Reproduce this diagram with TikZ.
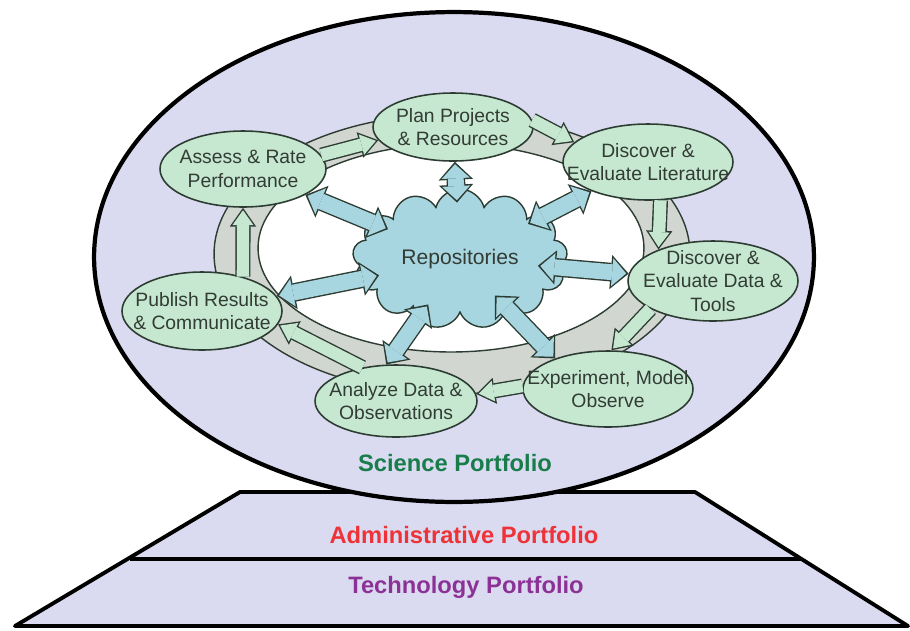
\documentclass[tikz,border=0pt]{standalone}
\usepackage{fontspec}
\setmainfont{Liberation Sans}
\usetikzlibrary{shapes.geometric,shapes.symbols,arrows.meta}

\definecolor{portbg}{RGB}{218,219,240}
\definecolor{ringgray}{RGB}{210,214,208}
\definecolor{stagegreen}{RGB}{198,232,208}
\definecolor{repoblue}{RGB}{168,214,224}
\definecolor{edgedark}{RGB}{45,60,50}
\definecolor{textdark}{RGB}{50,60,52}
\definecolor{scigreen}{RGB}{25,125,75}
\definecolor{admred}{RGB}{238,50,55}
\definecolor{techpurple}{RGB}{140,50,150}

\tikzset{
  stage/.style={ellipse, draw=edgedark, line width=0.9pt, fill=stagegreen, inner sep=-30pt,
    align=center, text=textdark, font=\fontsize{11}{13.5}\selectfont},
  portlabel/.style={font=\fontsize{13.5}{16}\selectfont\bfseries},
  cyclearrow/.style={draw=stagegreen, line width=7pt, shorten >=1.4pt,
    -{Triangle[length=8.5pt,width=12pt,line width=0pt]},
    preaction={draw=edgedark, line width=8.6pt, shorten >=0pt,
      -{Triangle[length=10.7pt,width=15pt,line width=0pt]}}},
  repoarrow/.style={draw=repoblue, line width=9pt, shorten >=1.4pt, shorten <=1.4pt-#1,
    {Triangle[length=8pt,width=16pt,line width=0pt]}-{Triangle[length=8pt,width=16pt,line width=0pt]},
    preaction={draw=edgedark, line width=10.6pt, shorten >=0pt, shorten <=-#1,
      {Triangle[length=10.2pt,width=19.5pt,line width=0pt]}-{Triangle[length=10.2pt,width=19.5pt,line width=0pt]}}},
  repoarrow/.default=10pt,
}

\begin{document}
\begin{tikzpicture}[x=0.02cm, y=-0.02cm]
\useasboundingbox (0,0) rectangle (910,630);

% portfolio base
\filldraw[fill=portbg, draw=black, line width=2.2pt, line join=round]
  (240,492) -- (695,492) -- (908,626) -- (15,626) -- cycle;
\draw[line width=1.8pt] (130,559) -- (802,559);

% science portfolio
\filldraw[fill=portbg, draw=black, line width=2.4pt] (454,257) ellipse (7.2cm and 4.9cm);

% ring
\filldraw[fill=ringgray, draw=edgedark, line width=0.8pt] (452,254) ellipse (4.76cm and 2.8cm);
\filldraw[fill=white, draw=edgedark, line width=0.8pt] (451,248) ellipse (3.86cm and 2.08cm);

\node[cloud, cloud puffs=13, cloud ignores aspect, draw=edgedark, line width=0.8pt, fill=repoblue,
  minimum width=4.3cm, minimum height=2.8cm, inner sep=0pt, text=textdark,
  font=\fontsize{12}{14}\selectfont] (repo) at (460,259) {Repositories};

\node[stage, minimum width=3.2cm, minimum height=1.36cm] (plan) at (453,127) {Plan Projects\\ \& Resources};
\node[stage, minimum width=3.32cm, minimum height=1.52cm] (assess) at (243,169) {Assess \& Rate\\ Performance};
\node[stage, minimum width=3.4cm, minimum height=1.52cm] (lit) at (648,162) {Discover \&\\ Evaluate Literature};
\node[stage, minimum width=3.4cm, minimum height=1.6cm] (data) at (713,281) {Discover \&\\ Evaluate Data \&\\ Tools};
\node[stage, minimum width=3.4cm, minimum height=1.52cm] (exper) at (608,389) {Experiment, Model\\ Observe};
\node[stage, minimum width=3.24cm, minimum height=1.44cm] (analyze) at (396,401) {Analyze Data \&\\ Observations};
\node[stage, minimum width=3.2cm, minimum height=1.56cm] (publish) at (202,311) {Publish Results\\ \& Communicate};

% cycle
\draw[cyclearrow] (assess.10) -- (plan.190);
\draw[cyclearrow] (plan.5) -- (lit.165);
\draw[cyclearrow] (lit.288) -- (data.150);
\draw[cyclearrow] (data.204) -- (exper.85);
\draw[cyclearrow] (exper.178) -- (analyze.5);
\draw[cyclearrow] (analyze.135) -- (publish.350);
\draw[cyclearrow] (publish.40) -- (assess.270);

% repositories
\draw[repoarrow=8pt] (repo) -- (plan);
\draw[repoarrow=12pt] (repo) -- (assess);
\draw[repoarrow] (repo) -- (lit);
\draw[repoarrow=13pt] (repo) -- (publish);
\draw[repoarrow=14pt] (repo) -- (data);
\draw[repoarrow=10pt] (repo) -- (analyze.105);
\draw[repoarrow=10pt] (repo) -- (exper.150);

\node[portlabel, text=scigreen] (sci) at (455,463) {Science Portfolio};
\node[portlabel, text=admred] (admin) at (464,535) {Administrative Portfolio};
\node[portlabel, text=techpurple] (tech) at (466,587) {Technology Portfolio};

\end{tikzpicture}
\end{document}
